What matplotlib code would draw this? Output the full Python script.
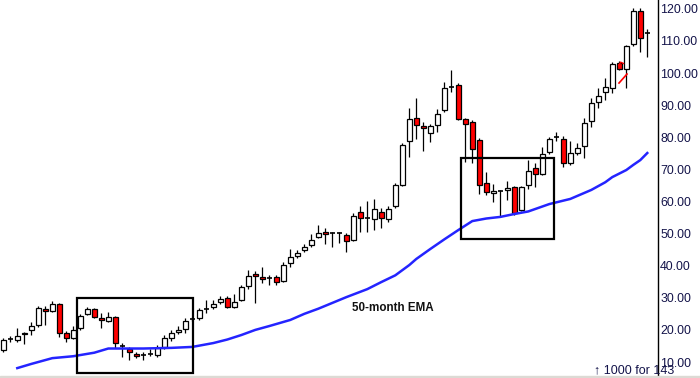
import matplotlib
matplotlib.use('Agg')
import matplotlib.pyplot as plt
import numpy as np
from matplotlib.patches import Rectangle

opens = [13.7, 17.2, 16.9, 18.7, 20.0, 21.5, 26.5, 25.9, 28.1, 19.0,
         17.5, 20.6, 24.95, 26.5, 23.7, 22.8, 24.0, 15.0, 14.0, 12.5,
         12.2, 12.5, 12.2, 14.7, 17.5, 19.3, 20.3, 23.4, 23.7, 26.5,
         27.1, 28.7, 29.9, 27.1, 29.3, 33.7, 37.4, 36.5, 36.2, 36.5,
         35.2, 40.8, 43.0, 44.9, 46.4, 48.9, 50.5, 50.2, 50.2, 49.6,
         48.0, 56.7, 54.9, 54.5, 56.7, 54.5, 58.6, 65.1, 78.8, 86.0,
         83.5, 81.3, 83.8, 88.5, 95.7, 96.3, 85.7, 84.8, 79.2, 65.8,
         62.6, 63.3, 63.6, 64.5, 57.4, 65.1, 70.4, 68.6, 75.4, 80.1,
         79.5, 72.0, 75.1, 77.3, 85.1, 91.0, 94.1, 95.4, 103.1, 101.3,
         109.1, 119.3, 112.5]
closes = [16.9, 17.2, 18.1, 19.0, 21.2, 26.8, 25.9, 28.1, 19.0, 17.5,
          20.0, 24.3, 26.5, 24.0, 23.1, 24.0, 15.9, 15.0, 13.1, 11.9,
          12.2, 12.5, 14.4, 17.5, 19.0, 20.0, 22.8, 23.4, 26.2, 26.5,
          28.1, 29.6, 27.1, 28.7, 33.4, 36.8, 36.8, 35.9, 36.2, 34.9,
          40.2, 42.7, 43.9, 45.8, 48.0, 50.2, 49.9, 50.2, 50.2, 47.7,
          55.5, 54.9, 54.9, 57.7, 54.9, 57.7, 65.1, 77.6, 85.7, 83.8,
          82.9, 83.5, 87.3, 95.4, 95.7, 85.7, 84.1, 76.4, 65.1, 63.0,
          63.3, 63.3, 64.2, 56.4, 64.5, 69.5, 68.6, 74.8, 79.5, 80.1,
          72.0, 75.1, 76.7, 84.5, 90.7, 92.9, 95.7, 102.8, 101.3, 108.4,
          119.3, 110.9, 112.5]
highs = [17.5, 18.1, 20.6, 19.3, 22.5, 27.4, 27.4, 29.0, 28.4, 19.7,
         21.2, 25.0, 27.1, 26.8, 25.3, 25.6, 24.3, 15.9, 14.7, 13.1,
         13.1, 14.0, 15.3, 18.4, 20.0, 21.2, 23.7, 24.0, 26.8, 29.3,
         29.3, 30.6, 30.6, 31.2, 34.0, 38.7, 38.3, 39.6, 37.1, 37.1,
         41.2, 45.2, 44.9, 46.8, 49.9, 52.7, 51.7, 50.5, 50.5, 50.2,
         56.4, 58.6, 60.2, 60.8, 58.0, 58.6, 65.8, 78.2, 89.1, 92.2,
         84.8, 84.1, 88.8, 97.2, 101.0, 96.9, 86.0, 85.4, 79.8, 69.2,
         65.5, 63.6, 66.4, 64.8, 64.8, 72.9, 72.0, 77.0, 80.1, 81.7,
         80.4, 78.8, 78.2, 86.0, 92.2, 95.4, 98.5, 103.5, 103.8, 108.8,
         120.3, 120.3, 113.7]
lows = [13.1, 16.2, 16.2, 15.6, 18.4, 20.9, 21.5, 25.6, 17.8, 16.2,
        17.2, 20.0, 24.6, 23.7, 20.6, 22.5, 14.4, 11.6, 10.6, 11.2,
        10.6, 11.9, 11.6, 14.0, 16.5, 18.7, 19.0, 22.8, 23.1, 25.3,
        26.5, 28.1, 26.8, 26.8, 29.0, 32.7, 28.4, 34.6, 34.0, 34.0,
        34.9, 39.6, 42.4, 44.3, 45.8, 48.6, 46.8, 45.8, 47.1, 44.3,
        47.7, 50.5, 50.5, 51.1, 51.7, 53.6, 58.0, 64.8, 73.9, 79.5,
        75.7, 78.5, 81.7, 87.9, 94.1, 85.4, 72.3, 72.0, 62.3, 62.0,
        59.8, 55.2, 60.5, 55.8, 57.0, 63.9, 64.5, 68.3, 74.8, 78.8,
        70.7, 71.4, 74.5, 73.6, 83.2, 89.1, 91.6, 93.8, 101.0, 95.4,
        108.4, 106.6, 105.0]

ema_idx = [2, 4, 7, 10, 13, 15, 20, 24, 27, 30, 32, 34, 36, 38, 41, 43, 45,
           47, 49, 52, 54, 56, 58, 59, 61, 63, 65, 67, 69, 71, 73, 75, 78,
           81, 84, 86, 87, 89, 90, 91, 92]
ema_val = [8.1, 9.4, 11.2, 11.8, 12.9, 14.2, 14.2, 14.4, 14.7, 15.9, 17.0,
           18.4, 20.0, 21.2, 23.1, 25.0, 26.6, 28.4, 30.2, 32.7, 34.9, 37.0,
           40.2, 42.1, 45.2, 48.2, 51.1, 53.9, 54.7, 55.2, 56.1, 56.9, 59.2,
           60.8, 63.6, 66.0, 67.6, 69.8, 71.4, 72.9, 75.1]

tick_vals = [10, 20, 30, 40, 50, 60, 70, 80, 90, 100, 110, 120]
tick_labels = ['10.00', '20.00', '30.00', '40.00', '50.00', '60.00',
               '70.00', '80.00', '90.00', '100.00', '110.00', '120.00']

plt.rcParams['font.family'] = ['Liberation Sans', 'DejaVu Sans']

fig = plt.figure(figsize=(7, 3.78), dpi=100)
fig.patches.append(Rectangle((0, 0), 1, 2 / 378, transform=fig.transFigure,
                             color='#dcdad4', zorder=0))
ax = fig.add_axes([0, 2 / 378, 658 / 700, 376 / 378])

x = np.arange(len(opens))
o = np.array(opens)
c = np.array(closes)
up = c > o
down = c < o
flat = c == o

ax.vlines(x, lows, highs, color='black', lw=0.9, zorder=2)
ax.bar(x[up], (c - o)[up], bottom=o[up], width=0.68, color='white',
       edgecolor='black', linewidth=0.9, zorder=3)
ax.bar(x[down], (o - c)[down], bottom=c[down], width=0.68, color='#ff0000',
       edgecolor='black', linewidth=0.9, zorder=3)
ax.hlines(o[flat], x[flat] - 0.36, x[flat] + 0.36, color='black', lw=1.2, zorder=3)

# stray red mark near the late candles
ax.plot([87.96, 89.1], [96.9, 99.7], color='#ff0000', lw=1.2, zorder=4)
ax.plot([87.9, 88.2, 88.6], [102.3, 103.4, 103.0], color='#ff0000', lw=1.0, zorder=4)

ax.plot(ema_idx, ema_val, color='#2424ff', lw=1.8, zorder=4,
        solid_joinstyle='round')

ax.add_patch(Rectangle((10.5, 6.6), 16.6, 23.3, fill=False, ec='black', lw=1.6, zorder=5))
ax.add_patch(Rectangle((65.4, 48.3), 13.3, 25.3, fill=False, ec='black', lw=1.6, zorder=5))

ax.text(49.8, 26.8, '50-month EMA', fontsize=8.4, fontweight='bold',
        ha='left', va='center', color='#111111')

ax.set_xlim(-0.47, 93.53)
ax.set_ylim(5.64, 122.77)
ax.set_xticks([])
ax.yaxis.tick_right()
ax.set_yticks(tick_vals)
ax.set_yticklabels(tick_labels)
ax.tick_params(axis='y', length=0, pad=1.5, labelsize=8.9, labelcolor='#14144a')
for s in ['top', 'left', 'bottom']:
    ax.spines[s].set_visible(False)
ax.spines['right'].set_color('black')
ax.spines['right'].set_linewidth(1.0)

fig.text(594 / 700, 1 - 370 / 378, '\u2191 1000 for 143', fontsize=9.0,
         ha='left', va='center', color='#14144a')

fig.savefig('out.png', dpi=100)
